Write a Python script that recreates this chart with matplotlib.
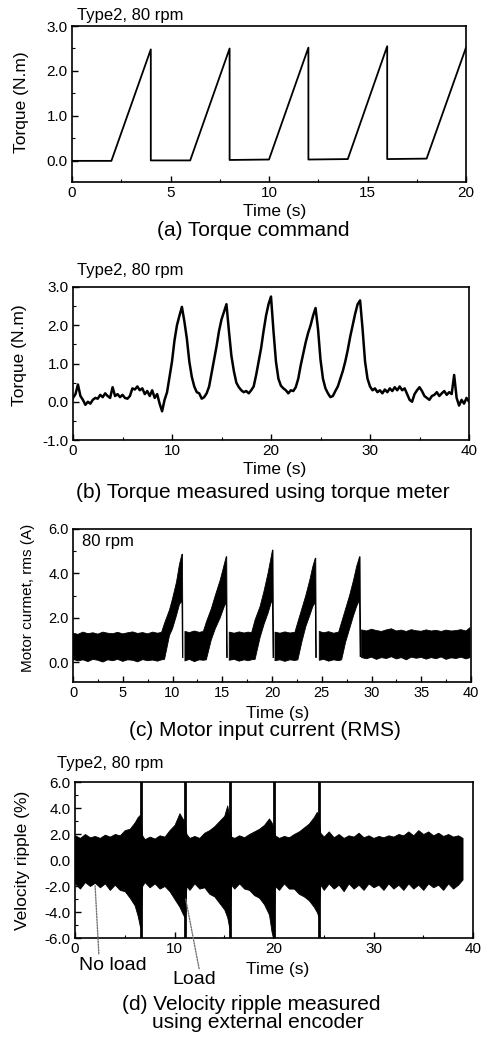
import numpy as np
import matplotlib
matplotlib.use('Agg')
import matplotlib.pyplot as plt
from matplotlib.ticker import MultipleLocator, FormatStrFormatter

plt.rcParams['font.family'] = ['Liberation Sans', 'DejaVu Sans']
plt.rcParams['axes.unicode_minus'] = False

nan = np.nan

# --- (a) torque command ---
a_time = [0, 2, 4, 4, 6, 8, 8, 10, 12, 12, 14, 16, 16, 18, 20]
a_torque = [0.0, 0.0, 2.48, 0.01, 0.01, 2.50, 0.02, 0.03, 2.52, 0.03, 0.04, 2.55, 0.04, 0.05, 2.52]

# --- (b) torque measured (sampled every 0.25 s) ---
b_time = np.arange(0, 40.001, 0.25)
b_torque = [
    0.10, 0.20, 0.45, 0.15, 0.05, -0.08, 0.00, -0.05, 0.05, 0.10, 0.08, 0.18,
    0.12, 0.22, 0.15, 0.10, 0.38, 0.15, 0.20, 0.12, 0.18, 0.10, 0.08, 0.15,
    0.35, 0.32, 0.40, 0.30, 0.35, 0.20, 0.28, 0.15, 0.30, 0.10, 0.20, -0.05,
    -0.25, 0.05, 0.25, 0.65, 1.05, 1.60, 2.00, 2.25, 2.48, 2.10, 1.65, 1.05,
    0.65, 0.40, 0.25, 0.22, 0.08, 0.12, 0.22, 0.40, 0.75, 1.10, 1.45, 1.85,
    2.15, 2.35, 2.55, 1.85, 1.20, 0.80, 0.50, 0.38, 0.30, 0.25, 0.28, 0.22,
    0.30, 0.40, 0.70, 1.05, 1.40, 1.85, 2.25, 2.55, 2.75, 1.85, 1.05, 0.60,
    0.42, 0.35, 0.30, 0.22, 0.30, 0.28, 0.38, 0.60, 0.95, 1.25, 1.55, 1.80,
    2.00, 2.25, 2.45, 1.90, 1.10, 0.60, 0.35, 0.22, 0.12, 0.15, 0.28, 0.40,
    0.60, 0.80, 1.05, 1.35, 1.70, 2.00, 2.30, 2.55, 2.65, 1.90, 1.05, 0.60,
    0.40, 0.30, 0.35, 0.25, 0.30, 0.22, 0.32, 0.25, 0.35, 0.28, 0.38, 0.30,
    0.40, 0.30, 0.35, 0.20, 0.05, 0.00, 0.20, 0.30, 0.38, 0.28, 0.15, 0.10,
    0.05, 0.15, 0.18, 0.25, 0.15, 0.22, 0.28, 0.18, 0.25, 0.20, 0.70, 0.10,
    -0.10, 0.05, -0.05, 0.10, 0.00,
]

# --- (c) motor current band: time, upper and lower envelope ---
c_time = [
    0.0, 0.5, 1.0, 1.5, 2.0, 2.5, 3.0, 3.5, 4.0, 4.5, 5.0, 5.5, 6.0, 6.5, 7.0, 7.5, 8.0, 8.5, 8.9,
    9.2, 9.7, 10.0, 10.4, 10.7, 10.95, 11.0, 11.05, nan,
    11.25, 11.7, 12.2, 12.7, 13.1,
    13.4, 13.9, 14.3, 14.8, 15.2, 15.4, 15.45, 15.5, nan,
    15.7, 16.2, 16.7, 17.2, 17.6, 17.95,
    18.3, 18.8, 19.2, 19.6, 19.9, 20.05, 20.1, 20.15, nan,
    20.3, 20.8, 21.3, 21.8, 22.3,
    22.6, 23.0, 23.4, 23.8, 24.1, 24.35, 24.4, 24.45, nan,
    24.75, 25.2, 25.7, 26.2, 26.7,
    27.0, 27.4, 27.8, 28.2, 28.5, 28.8, 28.85, 28.9, nan,
    29.0, 29.5, 30.0, 30.5, 31.0, 31.5, 32.0, 32.5, 33.0, 33.5, 34.0, 34.5,
    35.0, 35.5, 36.0, 36.5, 37.0, 37.5, 38.0, 38.5, 39.0, 39.5, 39.9,
]
c_upper = [
    1.30, 1.25, 1.35, 1.28, 1.32, 1.26, 1.35, 1.30, 1.28, 1.34, 1.27, 1.32, 1.36, 1.29, 1.33, 1.27, 1.35, 1.30, 1.34,
    1.75, 2.35, 2.85, 3.60, 4.40, 4.86, 4.86, 0.60, nan,
    1.38, 1.33, 1.40, 1.34, 1.38,
    1.80, 2.40, 3.00, 3.70, 4.40, 4.75, 4.75, 0.60, nan,
    1.35, 1.30, 1.36, 1.31, 1.35, 1.32,
    1.90, 2.50, 3.20, 4.00, 4.70, 5.05, 5.05, 0.60, nan,
    1.35, 1.30, 1.36, 1.31, 1.34,
    1.80, 2.40, 3.00, 3.70, 4.30, 4.68, 4.68, 0.60, nan,
    1.38, 1.32, 1.37, 1.30, 1.35,
    1.80, 2.40, 3.00, 3.70, 4.30, 4.75, 4.75, 0.70, nan,
    1.45, 1.40, 1.48, 1.42, 1.38, 1.45, 1.50, 1.40, 1.44, 1.38, 1.46, 1.41,
    1.39, 1.45, 1.40, 1.43, 1.38, 1.44, 1.40, 1.42, 1.46, 1.40, 1.55,
]
c_lower = [
    0.12, 0.05, 0.10, 0.02, 0.12, 0.08, 0.00, 0.10, 0.06, 0.12, 0.03, 0.10, 0.08, 0.01, 0.11, 0.06, 0.09, 0.04, 0.10,
    0.12, 1.20, 1.50, 2.10, 2.60, 2.75, 0.20, 0.20, nan,
    0.05, 0.12, 0.02, 0.10, 0.08,
    0.10, 1.00, 1.50, 2.00, 2.50, 2.70, 0.20, 0.20, nan,
    0.08, 0.12, 0.04, 0.10, 0.06, 0.10,
    0.12, 1.10, 1.70, 2.20, 2.65, 2.80, 0.20, 0.20, nan,
    0.06, 0.10, 0.03, 0.10, 0.07,
    0.10, 0.90, 1.60, 2.10, 2.50, 2.70, 0.20, 0.20, nan,
    0.08, 0.12, 0.04, 0.10, 0.06,
    0.10, 0.90, 1.50, 2.10, 2.50, 2.80, 0.25, 0.25, nan,
    0.20, 0.15, 0.22, 0.12, 0.20, 0.16, 0.24, 0.14, 0.20, 0.10, 0.22, 0.17,
    0.21, 0.13, 0.20, 0.15, 0.23, 0.12, 0.19, 0.16, 0.22, 0.14, 0.20,
]

# --- (d) velocity ripple band ---
d_time = [
    0.0, 0.5, 1.0, 1.5, 2.0, 2.5, 3.0, 3.5, 4.0, 4.5, 5.0, 5.5, 6.0, 6.3, 6.55,
    6.75, 7.0, 7.5, 8.0, 8.5, 9.0, 9.5, 10.0, 10.5, 10.8, 11.0,
    11.2, 11.5, 12.0, 12.5, 13.0, 13.5, 14.0, 14.5, 15.0, 15.3, 15.5,
    15.7, 16.0, 16.5, 17.0, 17.5, 18.0, 18.5, 19.0, 19.5, 19.75, 19.9,
    20.1, 20.5, 21.0, 21.5, 22.0, 22.5, 23.0, 23.5, 24.0, 24.3, 24.45,
    24.65, 25.0, 25.5, 26.0, 26.5, 27.0, 27.5, 28.0, 28.5, 29.0, 29.5, 30.0,
    30.5, 31.0, 31.5, 32.0, 32.5, 33.0, 33.5, 34.0, 34.5, 35.0, 35.5, 36.0,
    36.5, 37.0, 37.5, 38.0, 38.5, 38.95,
]
d_upper = [
    1.90, 1.70, 2.00, 1.75, 1.85, 1.70, 1.95, 1.80, 2.00, 1.90, 2.30, 2.40, 2.90, 3.30, 3.50,
    1.90, 1.60, 1.80, 1.65, 1.90, 1.80, 2.30, 2.70, 3.60, 3.20, 3.00,
    2.00, 1.70, 1.85, 1.70, 2.10, 2.30, 2.60, 3.00, 3.40, 4.20, 3.30,
    1.80, 1.70, 1.90, 1.75, 2.00, 2.20, 2.40, 2.70, 3.20, 2.90, 2.60,
    1.90, 1.70, 1.85, 1.75, 2.00, 2.20, 2.50, 2.80, 3.30, 3.70, 3.50,
    2.10, 1.80, 2.20, 1.75, 2.00, 1.70, 1.90, 1.80, 2.10, 1.75, 1.90, 1.70,
    1.85, 1.75, 1.90, 1.80, 2.00, 1.90, 2.20, 1.90, 2.30, 2.00, 2.20, 1.90,
    2.10, 1.85, 2.00, 1.80, 1.90, 1.70,
]
d_lower = [
    -1.80, -2.20, -1.70, -2.00, -1.75, -2.10, -1.80, -2.30, -1.90, -2.30, -2.40, -2.90, -3.50, -4.30, -5.20,
    -2.00, -1.70, -2.10, -1.80, -2.20, -2.00, -2.40, -3.00, -3.60, -4.10, -4.40,
    -2.00, -2.30, -1.80, -2.20, -2.10, -2.60, -2.80, -3.30, -3.80, -4.40, -5.20,
    -1.90, -2.20, -1.80, -2.20, -2.30, -2.70, -2.90, -3.40, -4.20, -5.50, -6.00,
    -2.00, -2.30, -1.80, -2.20, -2.20, -2.60, -2.80, -3.10, -3.60, -4.00, -4.30,
    -1.90, -2.30, -1.80, -2.20, -1.90, -2.40, -1.80, -2.20, -1.90, -2.30, -1.80, -2.10,
    -1.90, -2.30, -1.80, -2.20, -1.90, -2.30, -1.80, -2.20, -1.90, -2.30, -1.80, -2.10,
    -1.90, -2.30, -1.80, -2.20, -1.90, -1.50,
]
d_spike_time = [6.63, 11.1, 15.6, 20.0, 24.55]
d_spike_top = [6.5, 6.5, 6.5, 6.5, 6.5]
d_spike_bottom = [-6.5, -6.5, -6.5, -6.5, -6.5]

W, H = 488, 1040
fig = plt.figure(figsize=(W / 100, H / 100), dpi=100)


def add_axes_px(left, top, right, bottom):
    return fig.add_axes([left / W, 1 - bottom / H, (right - left) / W, (bottom - top) / H])


def style(ax, xmaj, ymaj, fs=11):
    ax.xaxis.set_major_locator(MultipleLocator(xmaj))
    ax.xaxis.set_minor_locator(MultipleLocator(xmaj / 2))
    ax.yaxis.set_major_locator(MultipleLocator(ymaj))
    ax.yaxis.set_minor_locator(MultipleLocator(ymaj / 2))
    ax.yaxis.set_major_formatter(FormatStrFormatter('%.1f'))
    ax.tick_params(which='both', direction='in', top=False, right=False,
                   labelsize=fs, pad=3)
    ax.tick_params(which='major', length=4, width=1)
    ax.tick_params(which='minor', length=2.5, width=0.8)
    for s in ax.spines.values():
        s.set_linewidth(1.2)


def labels(ax, ylab, xc, yc, yx, yy, fs=12.5, yfs=12.5):
    ax.set_xlabel('Time (s)', fontsize=fs)
    ax.xaxis.label.set_verticalalignment('center')
    ax.xaxis.set_label_coords(xc, yc)
    ax.set_ylabel(ylab, fontsize=yfs)
    ax.yaxis.label.set_verticalalignment('center')
    ax.yaxis.set_label_coords(yx, yy)


# (a)
ax = add_axes_px(72, 26, 466, 182)
ax.plot(a_time, a_torque, color='black', lw=1.3)
ax.set_xlim(0, 20)
ax.set_ylim(-0.47, 3.0)
style(ax, 5, 1.0)
labels(ax, 'Torque (N.m)', 0.515, -0.192, -0.129, 0.51)
ax.text(0.013, 1.07, 'Type2, 80 rpm', transform=ax.transAxes, fontsize=12, va='center')
fig.text(253 / W, 1 - 231 / H, '(a) Torque command', ha='center', va='center', fontsize=15)

# (b)
ax = add_axes_px(73, 287, 469, 440)
ax.plot(b_time, b_torque, color='black', lw=1.8)
ax.set_xlim(0, 40)
ax.set_ylim(-1.0, 3.0)
style(ax, 10, 1.0)
labels(ax, 'Torque (N.m)', 0.510, -0.196, -0.134, 0.556)
ax.text(0.01, 1.111, 'Type2, 80 rpm', transform=ax.transAxes, fontsize=12, va='center')
fig.text(263 / W, 1 - 493 / H, '(b) Torque measured using torque meter',
         ha='center', va='center', fontsize=15)

# (c)
ax = add_axes_px(73, 529, 471, 682)
ax.fill_between(c_time, c_lower, c_upper, color='black', lw=0.6, edgecolor='black')
ax.set_xlim(0, 40)
ax.set_ylim(-0.9, 6.0)
style(ax, 5, 2.0, fs=10.5)
labels(ax, 'Motor curmet, rms (A)', 0.513, -0.203, -0.113, 0.55, yfs=11)
ax.text(0.023, 0.92, '80 rpm', transform=ax.transAxes, fontsize=12, va='center')
fig.text(265 / W, 1 - 731 / H, '(c) Motor input current (RMS)',
         ha='center', va='center', fontsize=15)

# (d)
ax = add_axes_px(75, 782, 473, 938)
ax.fill_between(d_time, d_lower, d_upper, color='black', lw=0.6, edgecolor='black')
ax.vlines(d_spike_time, d_spike_bottom, d_spike_top, color='black', lw=2)
ax.set_xlim(0, 40)
ax.set_ylim(-6.0, 6.0)
style(ax, 10, 2.0)
labels(ax, 'Velocity ripple (%)', 0.51, -0.205, -0.131, 0.5)
ax.text(-0.045, 1.12, 'Type2, 80 rpm', transform=ax.transAxes, fontsize=12, va='center')
dots = dict(arrowstyle='-', linestyle=(0, (1, 1)), color='0.45', lw=1, shrinkA=0, shrinkB=2)
ax.annotate('No load', xy=(2.0, -1.7), xytext=(3.77, -8.08), ha='center', va='center',
            fontsize=14, annotation_clip=False,
            arrowprops=dict(dots, relpos=(0.3, 1.0)))
ax.annotate('Load', xy=(11.05, -2.7), xytext=(12.0, -9.23), ha='center', va='center',
            fontsize=14, annotation_clip=False,
            arrowprops=dict(dots, relpos=(0.62, 1.0)))
fig.text(251 / W, 1 - 1005 / H, '(d) Velocity ripple measured',
         ha='center', va='center', fontsize=15)
fig.text(258 / W, 1 - 1023 / H, 'using external encoder',
         ha='center', va='center', fontsize=15)

fig.savefig('out.png', dpi=100)
